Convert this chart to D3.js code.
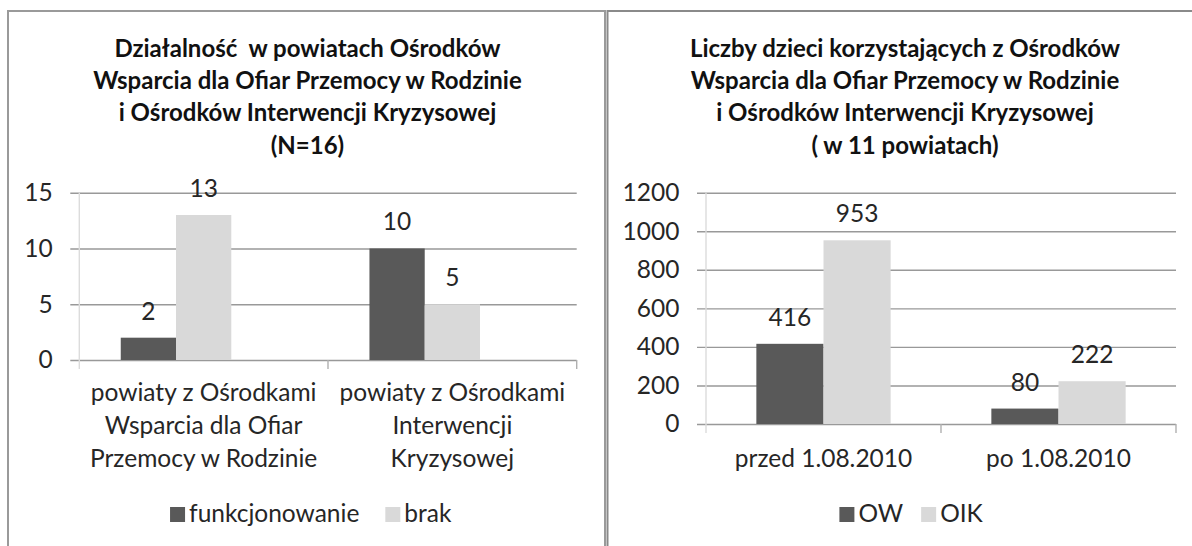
<!DOCTYPE html>
<html lang="pl">
<head>
<meta charset="UTF-8">
<title>Ośrodki Wsparcia i Interwencji Kryzysowej</title>
<script src="https://cdn.jsdelivr.net/npm/d3@7"></script>
<style>
    body { margin: 0; background: #fff; }
    svg text { font-family: Lato, "Open Sans", sans-serif; fill: #262626; }
    .title { font-weight: bold; fill: #111; white-space: pre; }
</style>
</head>
<body>
<div id="chart"></div>
<script>
// ---- left chart data
var leftTitle = ["Działalność  w powiatach Ośrodków", "Wsparcia dla Ofiar Przemocy w Rodzinie",
    "i Ośrodków Interwencji Kryzysowej", "(N=16)"];
var leftCategories = [["powiaty z Ośrodkami", "Wsparcia dla Ofiar", "Przemocy w Rodzinie"],
    ["powiaty z Ośrodkami", "Interwencji", "Kryzysowej"]];
var leftSeriesNames = ["funkcjonowanie", "brak"];
var leftFunkcjonowanie = [2, 10];
var leftBrak = [13, 5];
var leftTicks = [0, 5, 10, 15];

// ---- right chart data
var rightTitle = ["Liczby dzieci korzystających z Ośrodków", "Wsparcia dla Ofiar Przemocy w Rodzinie",
    "i Ośrodków Interwencji Kryzysowej", "( w 11 powiatach)"];
var rightCategories = [["przed 1.08.2010"], ["po 1.08.2010"]];
var rightSeriesNames = ["OW", "OIK"];
var rightOW = [416, 80];
var rightOIK = [953, 222];
var rightTicks = [0, 200, 400, 600, 800, 1000, 1200];

var colors = ["#595959", "#d9d9d9"];
var fs = "24.5px";

var width = 1192, height = 546;
var svg = d3.select("#chart").append("svg")
    .attr("width", width).attr("height", height);

// panel frames (bottom runs off the picture)
svg.append("rect").attr("x", 8).attr("y", 11).attr("width", 597).attr("height", 600)
    .attr("fill", "none").attr("stroke", "#9a9a9a").attr("stroke-width", 2);
svg.append("rect").attr("x", 607.5).attr("y", 11).attr("width", 620).attr("height", 600)
    .attr("fill", "none").attr("stroke", "#8a8a8a").attr("stroke-width", 2);

function drawChart(o) {
    var g = svg.append("g");

    // title
    g.append("text").attr("class", "title")
        .attr("text-anchor", "middle")
        .style("font-size", "24px")
        .selectAll("tspan").data(o.title).enter().append("tspan")
        .attr("x", o.titleX)
        .attr("y", function (d, i) { return 56.5 + i * 32.4; })
        .text(function (d) { return d; });

    var y = d3.scaleLinear().domain([0, d3.max(o.ticks)]).range([o.bottom, o.top]);
    var x = d3.scaleBand().domain(d3.range(o.categories.length))
        .range([o.left, o.right]).padding(0);
    // Excel style 150% gap; left chart has an empty third series slot
    var xs = d3.scaleBand().domain(d3.range(o.slots))
        .range([0, x.bandwidth()]).paddingInner(0).paddingOuter(0.75);

    // gridlines + y labels
    var yAxis = d3.axisLeft(y).tickValues(o.ticks).tickFormat(d3.format("d"))
        .tickSize(-(o.right - o.left + 9)).tickPadding(17.6);
    var ga = g.append("g").attr("transform", "translate(" + (o.left - 9) + ",0)").call(yAxis);
    ga.select(".domain").remove();
    ga.selectAll("line").attr("stroke", "#999").attr("stroke-width", 1.4);
    ga.selectAll("text").style("font-size", fs).attr("fill", "#262626").attr("font-family", null);

    // vertical axis + category ticks
    g.selectAll(".ctick").data(d3.range(o.categories.length + 1)).enter().append("line")
        .attr("x1", function (d) { return o.left + d * x.step(); })
        .attr("x2", function (d) { return o.left + d * x.step(); })
        .attr("y1", function (d) { return d === 0 ? o.top : o.bottom; })
        .attr("y2", o.bottom + 9)
        .attr("stroke", function (d) { return d === 0 ? "#dcdcdc" : "#b0b0b0"; })
        .attr("stroke-width", 1.4);

    // bars
    o.series.forEach(function (s, si) {
        var sg = g.append("g");
        sg.selectAll("rect").data(s.values).enter().append("rect")
            .attr("x", function (d, i) { return x(i) + xs(si); })
            .attr("width", xs.bandwidth())
            .attr("y", function (d) { return y(d); })
            .attr("height", function (d) { return o.bottom - y(d); })
            .attr("fill", colors[si]);
        sg.selectAll("text").data(s.values).enter().append("text")
            .attr("x", function (d, i) { return x(i) + xs(si) + xs.bandwidth() / 2; })
            .attr("y", function (d) { return y(d) - 18; })
            .attr("text-anchor", "middle")
            .style("font-size", fs)
            .text(function (d) { return d; });
    });

    // category labels
    g.selectAll(".cat").data(o.categories).enter().append("text")
        .attr("text-anchor", "middle")
        .style("font-size", fs)
        .each(function (lines, i) {
            d3.select(this).selectAll("tspan").data(lines).enter().append("tspan")
                .attr("x", x(i) + x.bandwidth() / 2)
                .attr("y", function (d, j) { return o.bottom + o.catOffset + j * 33; })
                .text(function (d) { return d; });
        });

    // legend, centred on legendX
    var lg = g.append("g");
    var items = lg.selectAll("g").data(o.series).enter().append("g");
    items.append("rect").attr("width", 15).attr("height", 15).attr("y", 507)
        .attr("fill", function (d, i) { return colors[i]; });
    items.append("text").attr("x", 19).attr("y", 522)
        .style("font-size", fs)
        .text(function (d) { return d.name; });
    var pos = 0;
    items.each(function () {
        d3.select(this).attr("transform", "translate(" + pos + ",0)");
        pos += this.getBBox().width + o.legendGap;
    });
    var total = pos - o.legendGap;
    lg.attr("transform", "translate(" + (o.legendX - total / 2) + ",0)");
}

drawChart({
    title: leftTitle, titleX: 307.5,
    categories: leftCategories, ticks: leftTicks, slots: 3,
    series: [{name: leftSeriesNames[0], values: leftFunkcjonowanie},
             {name: leftSeriesNames[1], values: leftBrak}],
    left: 79.3, right: 576.7, top: 192.7, bottom: 360,
    catOffset: 41, legendX: 311, legendGap: 26
});

drawChart({
    title: rightTitle, titleX: 905,
    categories: rightCategories, ticks: rightTicks, slots: 2,
    series: [{name: rightSeriesNames[0], values: rightOW},
             {name: rightSeriesNames[1], values: rightOIK}],
    left: 706, right: 1176, top: 192.7, bottom: 424,
    catOffset: 42.7, legendX: 911.5, legendGap: 18
});
</script>
</body>
</html>
